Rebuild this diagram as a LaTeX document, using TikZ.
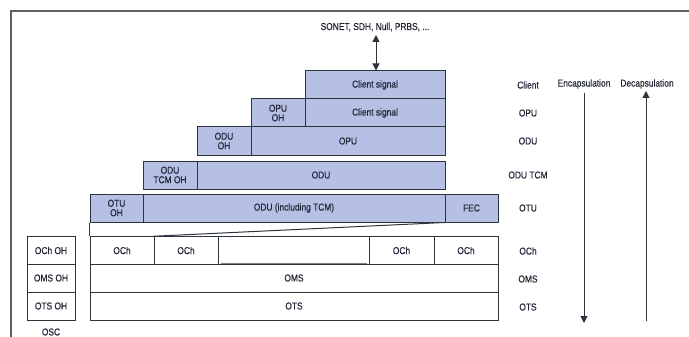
\documentclass[tikz,border=0pt]{standalone}
\usepackage{fontspec}
\setmainfont{Liberation Sans}[FakeStretch=0.84,FakeBold=0.4]
\usetikzlibrary{arrows.meta}
\definecolor{boxblue}{RGB}{181,192,228}
\definecolor{edge}{RGB}{45,52,62}
\definecolor{txt}{RGB}{35,38,55}
\definecolor{framegray}{RGB}{95,95,95}
\tikzset{
  lbl/.style={font=\fontsize{10}{10}\selectfont, text=txt, inner sep=0pt, align=center},
  bbox/.style={draw=edge, line width=1pt, fill=boxblue, lbl, minimum height=28pt, font=\fontsize{10}{9.5}\selectfont},
  wbox/.style={draw=edge, line width=1pt, fill=white, lbl, minimum height=27.5pt},
  conn/.style={draw=edge, line width=1pt},
  tip/.style={-{Triangle[length=7pt,width=7pt]}}
}
\begin{document}
\begin{tikzpicture}[x=1pt,y=-1pt]
\useasboundingbox (0,0) rectangle (689,337);
\fill[white] (0,0) rectangle (689,337);
\draw[framegray, line width=1.4pt] (11,337) -- (11,11) -- (689,11);

% top
\node[lbl] (src) at (375,27) {SONET, SDH, Null, PRBS, ...};
% client
\node[bbox, minimum width=140pt] (cs1) at (375,85) {Client signal};
\draw[conn, {Triangle[length=7pt,width=7pt]}-{Triangle[length=7pt,width=7pt]}] (376,35) -- (cs1.north -| 376,71);
% OPU row
\node[bbox, minimum width=54pt] (opuoh) at (278,113) {OPU\\OH};
\node[bbox, minimum width=140pt] (cs2) at (375,113) {Client signal};
% ODU row
\node[bbox, minimum width=54pt] (oduoh) at (224,141) {ODU\\OH};
\node[bbox, minimum width=194pt] (opu) at (348,141) {OPU};
% ODU TCM row
\node[bbox, minimum width=54pt] (tcmoh) at (170,175) {ODU\\TCM OH};
\node[bbox, minimum width=248pt] (odu) at (321,175) {ODU};
% OTU row
\node[bbox, minimum width=53pt] (otuoh) at (116.5,208) {OTU\\OH};
\node[bbox, minimum width=302pt] (oduinc) at (294,208) {ODU (including TCM)};
\node[bbox, minimum width=53pt] (fec) at (471.5,208) {FEC};

% OCh row
\node[wbox, minimum width=64pt] (och1) at (122,250.5) {OCh};
\node[wbox, minimum width=64pt] (och2) at (186,250.5) {OCh};
\node[wbox, minimum width=151pt] (ochb) at (293.5,250.5) {};
\node[wbox, minimum width=65pt] (och3) at (401.5,250.5) {OCh};
\node[wbox, minimum width=64pt] (och4) at (466,250.5) {OCh};
\draw[gray, line width=1.6pt] ([xshift=3pt,yshift=1.2pt]ochb.south west) -- ([xshift=-3pt,yshift=1.2pt]ochb.south east);
% strip between OTU and OCh
\draw[conn] (otuoh.south west) -- (och1.north west);
\draw[conn] (och2.north west) -- (fec.south west);

% OMS / OTS
\node[wbox, minimum width=408pt, minimum height=28pt] (oms) at (294,278) {OMS};
\node[wbox, minimum width=408pt, minimum height=28pt] (ots) at (294,306) {OTS};

% OSC column
\node[wbox, minimum width=48pt] (ochoh) at (51,250.5) {OCh OH};
\node[wbox, minimum width=48pt, minimum height=28pt] (omsoh) at (51,278) {OMS OH};
\node[wbox, minimum width=48pt, minimum height=28pt] (otsoh) at (51,306) {OTS OH};
\node[lbl] (osc) at (51,332) {OSC};

% right labels
\node[lbl] (lc) at (528,85) {Client};
\node[lbl] (lopu) at (528,113) {OPU};
\node[lbl] (lodu) at (528,141) {ODU};
\node[lbl] (ltcm) at (528,175) {ODU TCM};
\node[lbl] (lotu) at (528,208) {OTU};
\node[lbl] (loch) at (528,251) {OCh};
\node[lbl] (loms) at (528,279) {OMS};
\node[lbl] (lots) at (528,307) {OTS};

% encapsulation arrows
\node[lbl] (enc) at (584,84) {Encapsulation};
\node[lbl] (dec) at (647,84) {Decapsulation};
\coordinate (encend) at (584,323);
\coordinate (decstart) at (646,321);
\draw[conn, tip] (enc.south |- 0,93) -- (encend);
\draw[conn, tip] (decstart) -- (646,91);
\end{tikzpicture}
\end{document}
